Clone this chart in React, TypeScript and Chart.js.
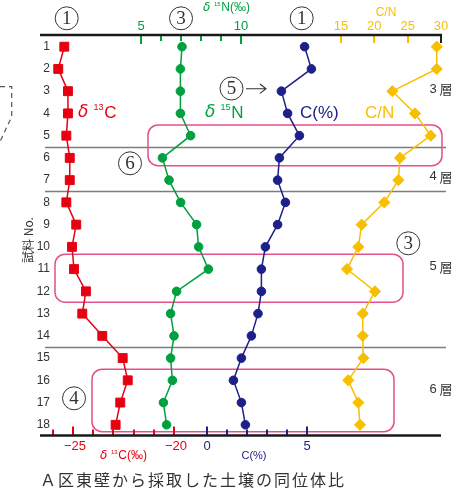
import React, { useEffect, useRef } from "react";
import { Chart, registerables } from "chart.js";

Chart.register(...registerables);

// ---- data ----
const sampleNo = [1, 2, 3, 4, 5, 6, 7, 8, 9, 10, 11, 12, 13, 14, 15, 16, 17, 18];
const d13C = [-25.43, -25.73, -25.25, -25.25, -25.33, -25.16, -25.16, -25.33, -24.84, -25.05, -24.95, -24.36, -24.54, -23.55, -22.54, -22.29, -22.66, -22.89];
const d15N = [7.05, 6.97, 6.97, 6.97, 7.48, 6.07, 6.4, 6.98, 7.78, 7.88, 8.37, 6.78, 6.48, 6.65, 6.48, 6.57, 6.12, 6.28];
const carbonPct = [4.88, 5.22, 3.72, 4.03, 4.62, 3.62, 3.53, 3.92, 3.53, 2.92, 2.72, 2.72, 2.55, 2.22, 1.72, 1.32, 1.72, 1.92];
const cnRatio = [29.36, 29.36, 22.7, 26.1, 28.46, 23.85, 23.6, 21.5, 18.1, 17.6, 15.9, 20.1, 18.26, 18.26, 18.35, 16.1, 17.6, 17.85];

const d15NTicks = [5, 6, 7, 8, 9, 10];
const d15NLabels = [5, 10];
const cnTicks = [15, 20, 25, 30];
const d13CTicks = [-26, -25, -24, -23, -22, -21, -20];
const d13CLabels = [-25, -20];
const cTicks = [0, 1, 2, 3, 4, 5];
const cLabels = [0, 5];

const layerBounds = [5.5, 7.5, 14.5];
const layerNames = ["3", "4", "5", "6"];
const layerAt = [2.9, 6.85, 10.9, 16.4];

const RED = "#e60012";
const GREEN = "#00a040";
const NAVY = "#1d2088";
const YELLOW = "#f8bf00";
const PINK = "#e4508c";
const INK = "#333333";
const NUMFONT = "'Liberation Sans', 'Noto Sans CJK JP', sans-serif";
const JPFONT = "'Noto Sans CJK JP', sans-serif";

function pts(vals: number[]) {
  return vals.map((v, i) => ({ x: v, y: sampleNo[i] }));
}

function text(ctx: CanvasRenderingContext2D, s: string, x: number, y: number, font: string, color: string, align: CanvasTextAlign = "left") {
  ctx.font = font;
  ctx.fillStyle = color;
  ctx.textAlign = align;
  ctx.textBaseline = "middle";
  ctx.fillText(s, x, y);
}

function circled(ctx: CanvasRenderingContext2D, d: string, x: number, y: number) {
  ctx.beginPath();
  ctx.strokeStyle = INK;
  ctx.lineWidth = 1;
  ctx.arc(x, y, 11.5, 0, Math.PI * 2);
  ctx.stroke();
  text(ctx, d, x, y + 1, "19px 'Liberation Serif', serif", INK, "center");
}

// draws "δ" + superscript + rest, starting at x
function deltaLabel(ctx: CanvasRenderingContext2D, sup: string, rest: string, x: number, y: number, size: number, color: string) {
  ctx.font = `italic ${size}px 'DejaVu Sans', sans-serif`;
  const dw = ctx.measureText("δ").width;
  text(ctx, "δ", x, y, ctx.font, color);
  const sx = x + dw + size * 0.3;
  const supFont = `${Math.round(size * 0.5)}px ${NUMFONT}`;
  text(ctx, sup, sx, y - size * 0.3, supFont, color);
  ctx.font = supFont;
  const sw = ctx.measureText(sup).width;
  text(ctx, rest, sx + sw + size * 0.05, y, `${size}px ${NUMFONT}`, color);
}

const decor = {
  id: "decor",
  beforeDatasetsDraw(chart: any) {
    const { ctx, chartArea } = chart;
    const ys = chart.scales.y;
    const xn = chart.scales.xN15;
    ctx.save();
    // layer boundaries
    ctx.strokeStyle = "#7d7d7d";
    ctx.lineWidth = 1.5;
    layerBounds.forEach((b) => {
      const py = Math.round(ys.getPixelForValue(b)) + 0.5;
      ctx.beginPath();
      ctx.moveTo(chartArea.left + 4, py);
      ctx.lineTo(chartArea.right + 5, py);
      ctx.stroke();
    });
    // pink boxes
    const boxes = [
      [5.35, 20.05, 4.52, 6.35],
      [0.7, 18.1, 10.33, 12.49],
      [2.55, 17.65, 15.5, 18.31],
    ];
    ctx.strokeStyle = PINK;
    ctx.lineWidth = 1.5;
    boxes.forEach(([x0, x1, y0, y1]) => {
      const px0 = xn.getPixelForValue(x0);
      const px1 = xn.getPixelForValue(x1);
      const py0 = ys.getPixelForValue(y0);
      const py1 = ys.getPixelForValue(y1);
      ctx.beginPath();
      (ctx as any).roundRect(px0, py0, px1 - px0, py1 - py0, 10);
      ctx.stroke();
    });
    // dashed bracket on the left
    ctx.strokeStyle = "#555";
    ctx.lineWidth = 1.2;
    ctx.setLineDash([5, 4]);
    ctx.beginPath();
    ctx.moveTo(0, 86.7);
    ctx.lineTo(11.7, 86.7);
    ctx.lineTo(11.7, 116.7);
    ctx.lineTo(0, 141.7);
    ctx.stroke();
    ctx.setLineDash([]);
    ctx.restore();
  },
  afterDatasetsDraw(chart: any) {
    const { ctx, chartArea } = chart;
    const ys = chart.scales.y;
    const xC13 = chart.scales.x;
    const xN = chart.scales.xN15;
    const xC = chart.scales.xC;
    const xCN = chart.scales.xCN;
    const top = chartArea.top;
    const bot = chartArea.bottom;
    ctx.save();

    // ticks
    const tick = (x: number, y0: number, y1: number, color: string) => {
      ctx.beginPath();
      ctx.strokeStyle = color;
      ctx.lineWidth = 2;
      ctx.moveTo(x, y0);
      ctx.lineTo(x, y1);
      ctx.stroke();
    };
    d15NTicks.forEach((v) => {
      const px = Math.round(xN.getPixelForValue(v));
      tick(px, top, top + (d15NLabels.includes(v) ? 9 : 6), GREEN);
    });
    cnTicks.forEach((v) => {
      const px = Math.round(xCN.getPixelForValue(v));
      tick(px, top, top + 8, v === 30 ? "#222" : YELLOW);
    });
    d13CTicks.forEach((v) => {
      const px = Math.round(xC13.getPixelForValue(v));
      tick(px, bot, bot - (d13CLabels.includes(v) ? 9 : 6), RED);
    });
    cTicks.forEach((v) => {
      const px = Math.round(xC.getPixelForValue(v));
      tick(px, bot, bot - (cLabels.includes(v) ? 9 : 6), NAVY);
    });

    // axis lines
    ctx.strokeStyle = "#1a1a1a";
    ctx.lineWidth = 2.5;
    ctx.beginPath();
    ctx.moveTo(chartArea.left - 1, top);
    ctx.lineTo(chartArea.right + 1, top);
    ctx.stroke();
    ctx.beginPath();
    ctx.moveTo(chartArea.left - 1, bot);
    ctx.lineTo(chartArea.right, bot);
    ctx.stroke();

    // tick labels
    d15NLabels.forEach((v) => text(ctx, String(v), xN.getPixelForValue(v), 26, `13px ${NUMFONT}`, GREEN, "center"));
    cnTicks.forEach((v) => text(ctx, String(v), xCN.getPixelForValue(v), 26, `13px ${NUMFONT}`, YELLOW, "center"));
    d13CLabels.forEach((v) => text(ctx, "\u2212" + String(Math.abs(v)), xC13.getPixelForValue(v) + 2, 446, `13px ${NUMFONT}`, RED, "center"));
    cLabels.forEach((v) => text(ctx, String(v), xC.getPixelForValue(v), 446, `13px ${NUMFONT}`, NAVY, "center"));

    // axis titles
    deltaLabel(ctx, "15", "N(‰)", 203, 8, 12, GREEN);
    text(ctx, "C/N", 386, 13, `12px ${NUMFONT}`, YELLOW, "center");
    deltaLabel(ctx, "13", "C(‰)", 100, 456, 12, RED);
    text(ctx, "C(%)", 254, 456, `11px ${NUMFONT}`, NAVY, "center");

    // series labels
    deltaLabel(ctx, "13", "C", 78, 113, 17, RED);
    deltaLabel(ctx, "15", "N", 205, 113, 17, GREEN);
    text(ctx, "C(%)", 300, 113, `17px ${NUMFONT}`, NAVY);
    text(ctx, "C/N", 365, 113, `17px ${NUMFONT}`, YELLOW);

    // row labels
    sampleNo.forEach((n) => text(ctx, String(n), 50, ys.getPixelForValue(n), `12px ${NUMFONT}`, INK, "right"));

    // y title
    ctx.save();
    ctx.translate(28, 240);
    ctx.rotate(-Math.PI / 2);
    text(ctx, "試料 No.", 0, 0, `12px ${JPFONT}`, INK, "center");
    ctx.restore();

    // layer labels
    layerNames.forEach((n, i) => {
      const py = ys.getPixelForValue(layerAt[i]);
      text(ctx, n, 433, py, `13px ${NUMFONT}`, INK, "center");
      text(ctx, "層", 446, py, `13px ${JPFONT}`, INK, "center");
    });

    // circled numbers
    circled(ctx, "1", 66.7, 18.3);
    circled(ctx, "3", 181, 18.3);
    circled(ctx, "1", 301.7, 18.3);
    circled(ctx, "5", 231.5, 88.5);
    circled(ctx, "6", 130, 163.3);
    circled(ctx, "3", 408.3, 243.3);
    circled(ctx, "4", 74, 398.3);

    // arrow from 5
    ctx.strokeStyle = INK;
    ctx.lineWidth = 1.1;
    ctx.beginPath();
    ctx.moveTo(246, 88.7);
    ctx.lineTo(266, 88.7);
    ctx.moveTo(260, 84);
    ctx.lineTo(266, 88.7);
    ctx.lineTo(260, 93.4);
    ctx.stroke();

    // title
    const title = "Ａ区東壁から採取した土壌の同位体比";
    Array.from(title).forEach((ch, i) => text(ctx, ch, 40 + i * 18 + 8, 480, `16px ${JPFONT}`, INK, "center"));

    ctx.restore();
  },
};

export default function App() {
  const ref = useRef<HTMLCanvasElement>(null);
  useEffect(() => {
    document.body.style.margin = "0";
    const canvas = ref.current!;
    const common = { showLine: true, borderWidth: 1.5, clip: false as any, pointBorderWidth: 1 };
    const chart = new Chart(canvas, {
      type: "scatter",
      data: {
        datasets: [
          { ...common, label: "δ13C", data: pts(d13C), xAxisID: "x", borderColor: RED, backgroundColor: RED, pointStyle: "rect", pointRadius: 6.3 },
          { ...common, label: "δ15N", data: pts(d15N), xAxisID: "xN15", borderColor: GREEN, backgroundColor: GREEN, pointStyle: "circle", pointRadius: 4.3 },
          { ...common, label: "C(%)", data: pts(carbonPct), xAxisID: "xC", borderColor: NAVY, backgroundColor: NAVY, pointStyle: "circle", pointRadius: 4.3 },
          { ...common, label: "C/N", data: pts(cnRatio), xAxisID: "xCN", borderColor: YELLOW, backgroundColor: YELLOW, pointStyle: "rectRot", pointRadius: 5.6 },
        ] as any,
      },
      options: {
        responsive: false,
        animation: false,
        devicePixelRatio: 1,
        layout: { padding: { left: 41, right: 28, top: 35, bottom: 52.5 } },
        plugins: { legend: { display: false }, tooltip: { enabled: false } },
        scales: {
          y: { type: "linear", min: 0.475, max: 18.48, reverse: true, display: false },
          x: { type: "linear", axis: "x", min: -26.584, max: -6.782, display: false },
          xN15: { type: "linear", axis: "x", min: 0, max: 20, display: false },
          xC: { type: "linear", axis: "x", min: -8.3, max: 11.7, display: false },
          xCN: { type: "linear", axis: "x", min: -30, max: 30, display: false },
        } as any,
      },
      plugins: [decor as any],
    });
    return () => chart.destroy();
  }, []);
  return (
    <div style={{ position: "absolute", left: 0, top: 0, width: 469, height: 488, background: "#fff" }}>
      <canvas ref={ref} width={469} height={488} style={{ display: "block" }} />
    </div>
  );
}
